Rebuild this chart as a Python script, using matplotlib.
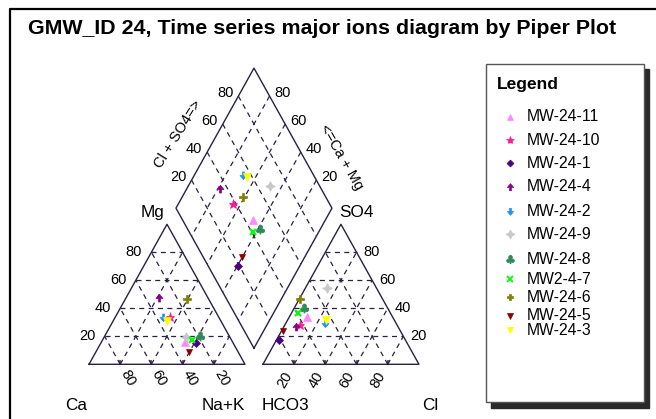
# Piper plot, GMW_ID 24 major ions time series
import numpy as np
import matplotlib
matplotlib.use('Agg')
import matplotlib.pyplot as plt
from matplotlib.path import Path
from matplotlib.patches import Rectangle

plt.rcParams['font.family'] = ['Liberation Sans', 'DejaVu Sans']

# samples, cations (%) and anions (%)
samples = ['MW-24-11', 'MW-24-10', 'MW-24-1', 'MW-24-4', 'MW-24-2', 'MW-24-9',
           'MW-24-8', 'MW2-4-7', 'MW-24-6', 'MW-24-5', 'MW-24-3']
ca   = [30.4, 31.1, 23.9, 31.4, 35.5, 28.0, 18.6, 25.1, 14.1, 31.2, 34.7]
mg   = [16.1, 34.0, 15.4, 47.4, 33.8, 19.7, 20.4, 17.4, 46.6,  9.0, 30.9]
na_k = [53.5, 34.9, 60.7, 21.2, 30.7, 52.3, 61.0, 57.5, 39.3, 59.8, 34.4]
hco3 = [55.0, 62.1, 80.9, 65.1, 45.4, 31.7, 53.8, 59.2, 53.0, 75.3, 43.6]
so4  = [33.5, 28.1, 17.4, 26.9, 29.3, 54.2, 40.2, 36.6, 46.5, 23.6, 31.6]
cl   = [11.5,  9.8,  1.7,  8.0, 25.3, 14.1,  6.0,  4.2,  0.5,  1.1, 24.8]
grid_vals = [20, 40, 60, 80]

# marker styles
up_arrow = Path([(-1, 0), (0, 1.2), (1, 0), (0.3, 0), (0.3, -1), (-0.3, -1), (-0.3, 0), (-1, 0)],
                [1, 2, 2, 2, 2, 2, 2, 79])
down_arrow = Path([(-1, 0), (0, -1.2), (1, 0), (0.3, 0), (0.3, 1), (-0.3, 1), (-0.3, 0), (-1, 0)],
                  [1, 2, 2, 2, 2, 2, 2, 79])
colors = ['#ff88ff', '#ff1493', '#4b0082', '#8b008b', '#1e90ff', '#c8c8c8',
          '#2e8b57', '#00ff00', '#808000', '#8b0000', '#ffff00']
markers = ['^', '*', 'D', up_arrow, down_arrow, (4, 1, 0),
           '$♣$', 'x', 'P', 'v', 'v']
msizes = [5.5, 6.5, 4, 6, 6, 7, 6.5, 4.5, 5.5, 5, 5.5]

S3 = np.sqrt(3) / 2
G = 11.5  # gap between the two triangles
LC = '#2a2040'

def tri(right, top, x0=0.0):
    return x0 + np.asarray(right) + np.asarray(top) / 2, np.asarray(top) * S3

def cat_xy(na, m):
    return tri(na, m)

def an_xy(c, s):
    return tri(c, s, 100 + G)

def dia_xy(n, h):
    n = np.asarray(n); h = np.asarray(h)
    return (n + 200 + G - h) / 2, (200 + G - h - n) * S3

fig = plt.figure(figsize=(6.56, 4.19), dpi=100)
# pixel mapping of diagram
X0, SX, Y0, SY = 89, 1.56, 364.3, 1.617
ax = fig.add_axes([0, 0, 1, 1])
ax.set_xlim(-X0 / SX, (656 - X0) / SX)
ax.set_ylim((Y0 - 419) / SY, Y0 / SY)
ax.axis('off')

dash = dict(color=LC, lw=0.9, ls=(0, (4, 3.5)))
solid = dict(color=LC, lw=1.0)

# triangle outlines and grids
for x0 in [0, 100 + G]:
    px, py = tri([0, 100, 0, 0], [0, 0, 100, 0], x0)
    ax.plot(px, py, **solid)
    for k in grid_vals:
        ax.plot(*tri([0, 100 - k], [k, k], x0), **dash)
        ax.plot(*tri([k, k], [0, 100 - k], x0), **dash)
        ax.plot(*tri([100 - k, 0], [0, 100 - k], x0), **dash)
        ax.plot([x0 + k] * 2, [0, 1.8], color=LC, lw=1.2)

# diamond outline and grid
dx, dy = dia_xy([100, 0, 0, 100, 100], [100, 100, 0, 0, 100])
ax.plot(dx, dy, **solid)
for k in grid_vals:
    ax.plot(*dia_xy([k, k], [0, 100]), **dash)
    ax.plot(*dia_xy([0, 100], [k, k]), **dash)

# tick labels
tfs = 10.5
for k in grid_vals:
    x, y = cat_xy(0, k)
    ax.text(x - 6, y, str(k), ha='right', va='center', fontsize=tfs)
    x, y = an_xy(100 - k, k)
    ax.text(x + 4.5, y, str(k), ha='left', va='center', fontsize=tfs)
    ax.text(100 - k + 5, -8.7, str(k), ha='center', va='center', rotation=-60, fontsize=tfs)
    ax.text(100 + G + k - 6, -9.7, str(k), ha='center', va='center', rotation=60, fontsize=tfs)
    x, y = dia_xy(0, 100 - k)
    ax.text(x - 3, y + 2, str(k), ha='right', va='center', fontsize=tfs)
    x, y = dia_xy(100 - k, 0)
    ax.text(x + 3, y + 2, str(k), ha='left', va='center', fontsize=tfs)

# data points in all three fields
for i in range(len(samples)):
    sty = dict(marker=markers[i], color=colors[i], ms=msizes[i], ls='none',
               mew=1.5 if markers[i] == 'x' else 0.5, zorder=5)
    ax.plot(*cat_xy(na_k[i], mg[i]), **sty)
    ax.plot(*an_xy(cl[i], so4[i]), **sty)
    ax.plot(*dia_xy(na_k[i], hco3[i]), **sty)

# overlay in pixel units: frame, title, axis names, legend
pax = fig.add_axes([0, 0, 1, 1])
pax.set_xlim(0, 656)
pax.set_ylim(419, 0)
pax.axis('off')
pax.plot([9.5, 9.5, 656], [419, 9.5, 9.5], color='black', lw=1.6)
pax.text(28, 28, 'GMW_ID 24, Time series major ions diagram by Piper Plot',
         ha='left', va='center', fontsize=15.4, fontweight='bold')

lfs = 12.3
for txt, x, y in [('Mg', 153, 212), ('SO4', 356, 212), ('Ca', 76, 405),
                  ('Na+K', 223, 405), ('HCO3', 285, 405), ('Cl', 430, 405)]:
    pax.text(x, y, txt, ha='center', va='center', fontsize=lfs)
pax.text(178, 134, 'Cl + SO4=>', ha='center', va='center', rotation=58, fontsize=10.5)
pax.text(341, 157, '<=Ca + Mg', ha='center', va='center', rotation=-60, fontsize=10.5)

# legend box with shadow
pax.add_patch(Rectangle((491, 69), 158, 339, color='#2a2a2a', zorder=1))
pax.add_patch(Rectangle((486, 64), 158, 338, facecolor='white', edgecolor='#555555', lw=1, zorder=2))
pax.text(497, 85, 'Legend', ha='left', va='center', fontsize=12.5, fontweight='bold', zorder=3)
row_y = [116.7, 140, 163.3, 186.7, 211, 234, 259, 279.3, 297.3, 315.7, 330]
for i, name in enumerate(samples):
    pax.plot(509.5, row_y[i], marker=markers[i], color=colors[i], ms=msizes[i] - 0.5,
             mew=1.3 if markers[i] == 'x' else 0.5, ls='none', zorder=3)
    pax.text(527, row_y[i], name, ha='left', va='center', fontsize=11.3, zorder=3)

fig.savefig('out.png', dpi=100)
